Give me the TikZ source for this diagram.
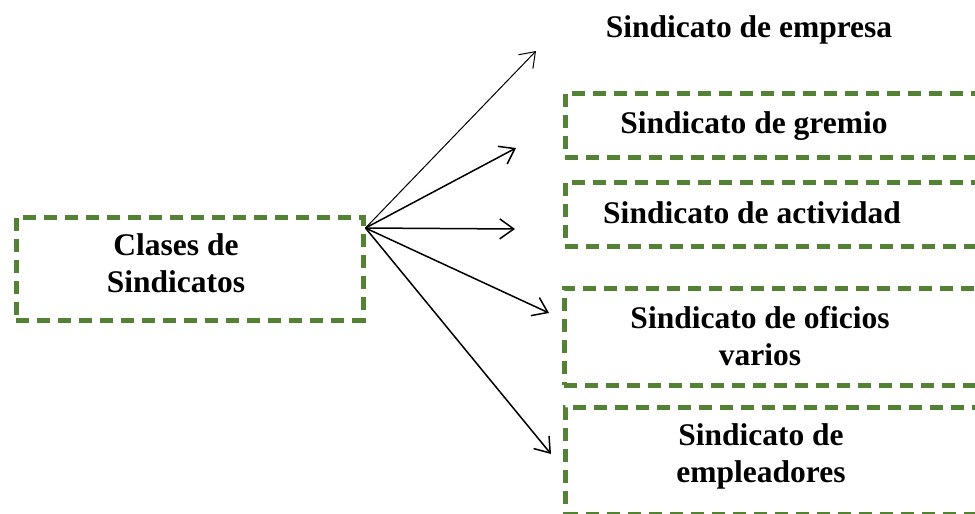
\documentclass[tikz,border=0pt]{standalone}
\usepackage{fontspec}
\setmainfont{Liberation Serif}
\usetikzlibrary{positioning,arrows.meta}
\definecolor{dashgreen}{RGB}{84,130,53}

\begin{document}
\begin{tikzpicture}[x=1pt,y=1pt,>={Straight Barb[length=14pt,width=20pt]},
  box/.style={draw=dashgreen,line width=4.5pt,dash pattern=on 13pt off 8pt,inner sep=0pt,anchor=north west},
  lbl/.style={font=\bfseries\fontsize{31.5}{37}\selectfont,align=center,anchor=base},
  link/.style={->,line width=1.5pt}]
\useasboundingbox (0,0) rectangle (975,-514);
\clip (0,0) rectangle (975,-514);
% caja principal
\node[box,minimum width=347pt,minimum height=103pt] (clases) at (14,-215) {};
\node[lbl] (clasesT) at (176,-292) {Clases de\\Sindicatos};
% cajas de la derecha
\node[box,minimum width=440pt,minimum height=64pt] (gremio) at (563,-91) {};
\node[box,minimum width=440pt,minimum height=64pt] (actividad) at (563,-180) {};
\node[box,minimum width=440pt,minimum height=97pt] (oficios) at (562,-286) {};
\node[box,minimum width=440pt,minimum height=107pt] (empleadores) at (563,-405) {};
\node[lbl] (empresaT) at (749,-37) {Sindicato de empresa};
\node[lbl] (gremioT) at (754,-133) {Sindicato de gremio};
\node[lbl] (actividadT) at (752,-223) {Sindicato de actividad};
\node[lbl] (oficiosT) at (760,-365) {Sindicato de oficios\\varios};
\node[lbl] (empleadoresT) at (761,-482) {Sindicato de\\empleadores};
% flechas
\coordinate (hub) at ([yshift=-13pt]clases.north east);
\coordinate (e1) at (536,-51);
\coordinate (e2) at (516,-148);
\coordinate (e3) at (515,-229);
\coordinate (e4) at (549,-313);
\coordinate (e5) at (551,-454);
\draw[link,line width=1pt] (hub) -- (e1);
\foreach \e in {e2,e3,e4,e5}
  \draw[link] (hub) -- (\e);
\end{tikzpicture}
\end{document}
